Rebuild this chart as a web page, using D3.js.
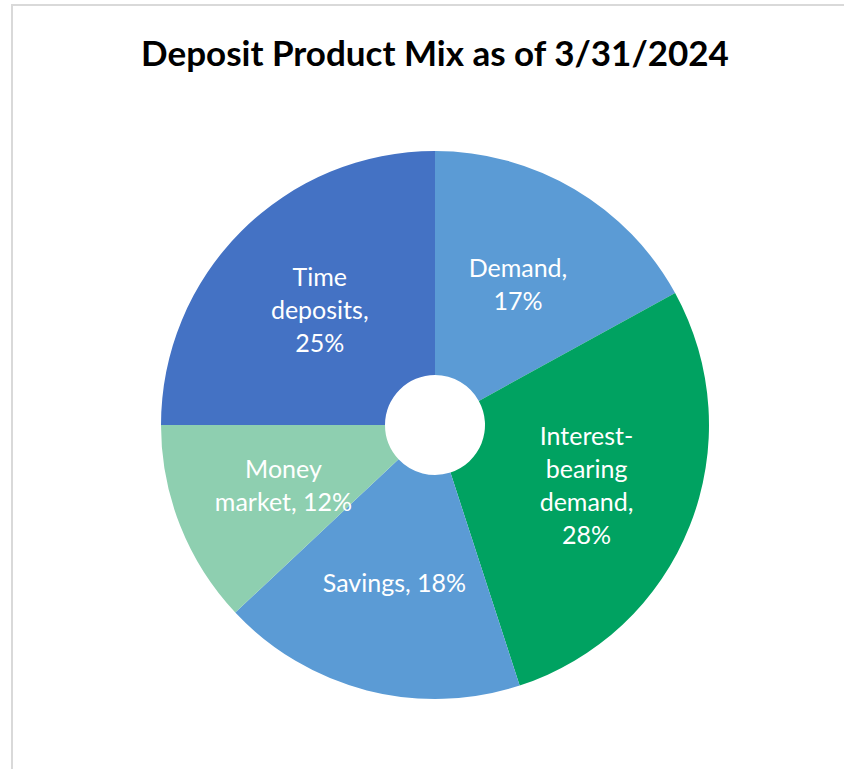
<html lang="en">
  <head>
    <meta charset="UTF-8" />
    <title>Deposit Product Mix</title>
    <script src="https://d3js.org/d3.v7.min.js"></script>
  </head>
  <style>
    body {
      margin: 0;
      background: #fff;
    }
    svg {
      display: block;
    }
    text {
      font-family: Lato, "Open Sans", sans-serif;
    }
  </style>
  <body>
    <div id="viz"><svg></svg></div>
    <script>
      // slices, clockwise from 12 o'clock
      var categories = ["Demand", "Interest-bearing demand", "Savings", "Money market", "Time deposits"];
      var shares = [17, 28, 18, 12, 25];
      var labelLines = [
        ["Demand,", "17%"],
        ["Interest-", "bearing", "demand,", "28%"],
        ["Savings, 18%"],
        ["Money", "market, 12%"],
        ["Time", "deposits,", "25%"]
      ];
      var colors = ["#5b9bd5", "#00a261", "#5b9bd5", "#8ecfb0", "#4472c4"];

      var width = 844, height = 769;
      var cx = 435, cy = 425, outerR = 274, innerR = 50, labelR = 163;

      var svg = d3.select("svg").attr("width", width).attr("height", height);

      // chart frame (only top and left edges are in view)
      svg.append("line")
        .attr("x1", 12).attr("x2", width).attr("y1", 5).attr("y2", 5)
        .style("stroke", "#d9d9d9").style("stroke-width", 2);
      svg.append("line")
        .attr("x1", 12).attr("x2", 12).attr("y1", 4).attr("y2", height)
        .style("stroke", "#d9d9d9").style("stroke-width", 2);

      svg.append("text")
        .attr("x", cx)
        .attr("y", 66)
        .style("text-anchor", "middle")
        .style("font-weight", "bold")
        .style("font-size", "35px")
        .style("fill", "#000")
        .text("Deposit Product Mix as of 3/31/2024");

      var data = categories.map(function (c, i) {
        return { name: c, value: shares[i], lines: labelLines[i], color: colors[i] };
      });

      var pie = d3.pie().sort(null).value(function (d) { return d.value; });
      var arc = d3.arc().innerRadius(innerR).outerRadius(outerR);
      var labelArc = d3.arc().innerRadius(labelR).outerRadius(labelR);

      var g = svg.append("g").attr("transform", "translate(" + cx + "," + cy + ")");

      var slices = g.selectAll("g.slice")
        .data(pie(data))
        .enter()
        .append("g")
        .attr("class", "slice");

      slices.append("path")
        .attr("d", arc)
        .style("fill", function (d) { return d.data.color; });

      var lineH = 33;
      slices.append("text")
        .attr("transform", function (d) {
          return "translate(" + labelArc.centroid(d) + ")";
        })
        .style("text-anchor", "middle")
        .style("font-size", "25px")
        .style("fill", "#fff")
        .each(function (d) {
          var n = d.data.lines.length;
          var t = d3.select(this);
          d.data.lines.forEach(function (line, i) {
            t.append("tspan")
              .attr("x", 0)
              .attr("y", (i - (n - 1) / 2) * lineH + 9)
              .text(line);
          });
        });
    </script>
  </body>
</html>
